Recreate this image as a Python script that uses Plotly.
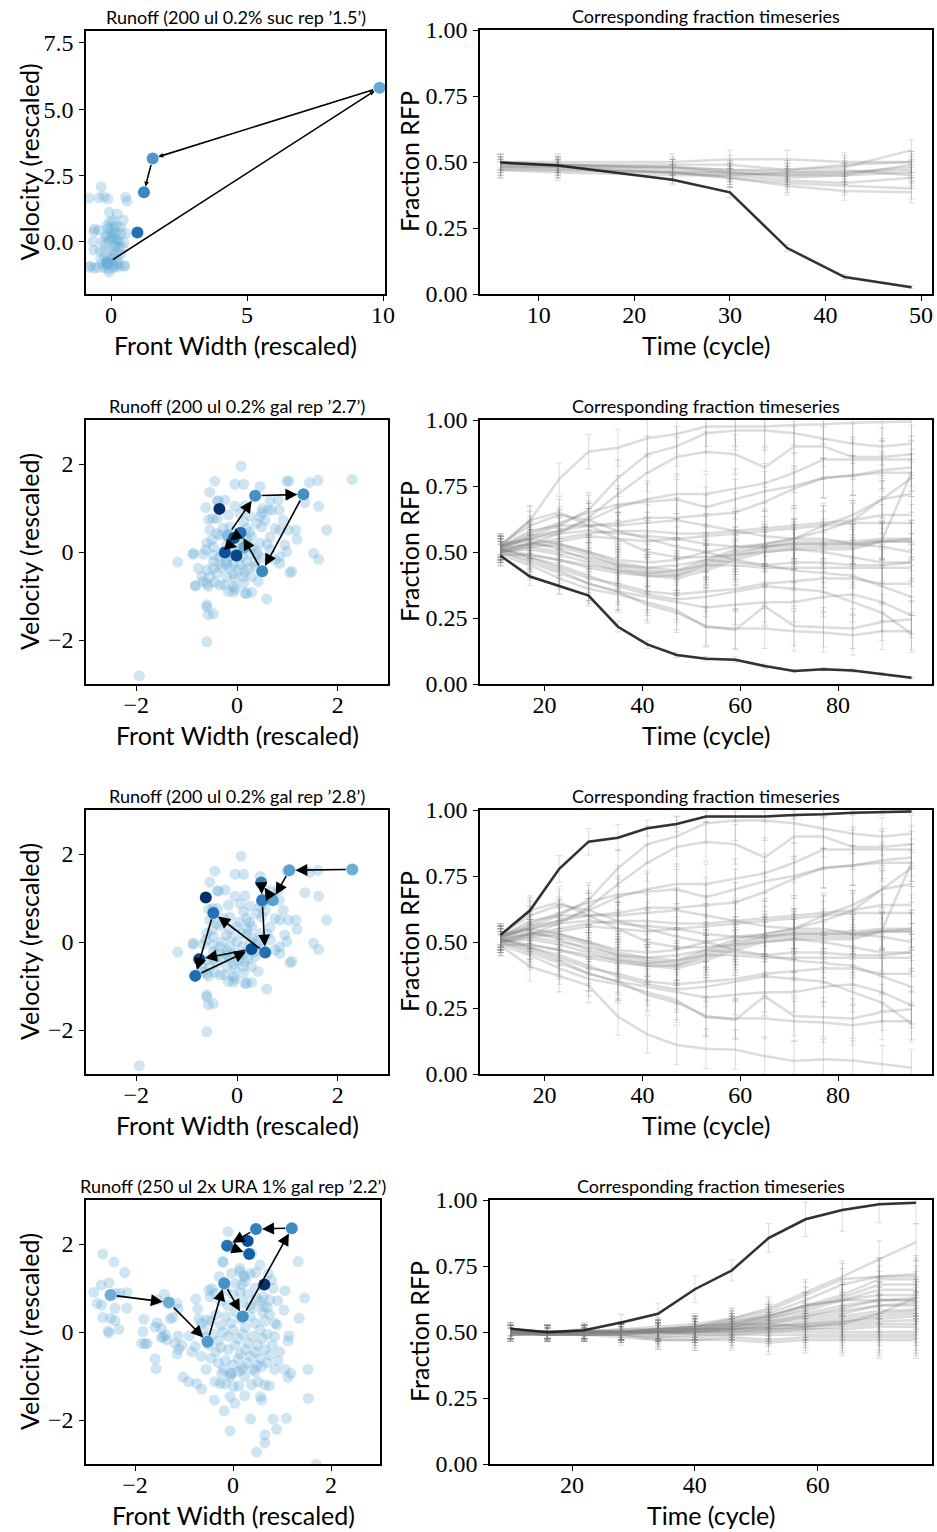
import plotly.graph_objects as go

W, H = 937, 1532

# ------------------------------------------------------------------ data
# Row 1 : sucrose runoff
suc_cloud = [(-0.36,2.08),(-0.81,1.65),(-0.44,1.66),(-0.26,1.70),(-0.11,1.62),(0.54,1.68),(0.58,1.53),
 (-0.07,1.11),(0.23,1.05),(0.45,0.82),(0.08,0.80),(-0.14,0.61),(-0.44,0.44),(-0.63,0.39),(0.11,0.54),
 (-0.01,0.42),(0.17,0.35),(0.36,0.29),(0.54,0.32),(-0.13,0.27),(0.05,0.16),(0.23,0.10),(0.48,-0.03),
 (-0.07,0.04),(-0.20,-0.09),(0.11,-0.15),(0.29,-0.21),(-0.01,-0.34),(0.17,-0.40),(-0.65,0.01),(-0.63,-0.31),
 (-0.75,-0.91),(-0.50,-0.97),(-0.32,-0.85),(0.05,-0.78),(0.23,-0.66),(0.48,-0.91),(-0.13,-0.59),(-0.26,-0.97),
 (0.36,-0.47),(0.11,-0.97),(-0.38,-0.66),(-0.80,-0.96),(-0.63,-0.99),(0.51,-0.91),(0.21,-0.88),(-0.10,-1.02),
 (-0.07,-1.14),(-0.61,0.48),(0.00,0.20),(0.10,0.30),(-0.10,0.50),(0.20,-0.10),(0.30,0.00),(-0.20,0.20),
 (0.10,-0.50),(-0.10,-0.80),(0.25,-0.80),(0.00,-0.60),(0.35,0.55),(-0.15,-0.30),(0.05,-0.95),(0.15,0.05),
 (-0.05,0.75),(0.20,0.60),(-0.30,0.00),(0.40,-0.20),(-0.25,-0.50),(0.30,-0.95),(-0.40,-0.35)]
suc_hl_x = [-0.20, -0.14, 9.87, 1.53, 1.21, 0.97]
suc_hl_y = [-0.30, -0.81, 5.81, 3.14, 1.87, 0.35]
suc_hl_c = ['#a9cfe5', '#6baed6', '#63a8d3', '#4a98c9', '#3787c0', '#2171b5']
suc_arrows = [(-0.20,-0.30,-0.14,-0.81),(-0.14,-0.81,9.87,5.81),(9.87,5.81,1.53,3.14),(1.53,3.14,1.21,1.87)]

suc_t = [6, 12, 24, 30, 36, 42, 49]
suc_lines = [
 [0.50,0.50,0.50,0.51,0.51,0.50,0.50],
 [0.49,0.49,0.49,0.49,0.47,0.48,0.545],
 [0.48,0.48,0.48,0.47,0.46,0.46,0.47],
 [0.47,0.47,0.46,0.46,0.45,0.45,0.46],
 [0.49,0.49,0.47,0.46,0.45,0.46,0.48],
 [0.48,0.48,0.46,0.45,0.43,0.42,0.44],
 [0.50,0.49,0.48,0.46,0.44,0.45,0.49],
 [0.49,0.48,0.46,0.44,0.41,0.39,0.385],
 [0.48,0.47,0.46,0.44,0.42,0.41,0.40],
 [0.47,0.46,0.45,0.45,0.46,0.47,0.45],
 [0.50,0.49,0.48,0.47,0.47,0.49,0.50],
]
suc_err = [0.03, 0.03, 0.03, 0.035, 0.035, 0.035, 0.04]
suc_black = [0.498, 0.487, 0.433, 0.385, 0.174, 0.064, 0.026]
suc_black_err = [0.02, 0.02, 0.02, 0.02, 0.013, 0.01, 0.005]

# Rows 2 & 3 : galactose runoff (shared cloud and timeseries)
gal_cloud = [(0.08,1.95),(-0.44,1.61),(-0.04,1.54),(0.13,1.54),(0.46,1.49),(-0.54,1.36),(0.99,1.61),(1.03,1.61),
 (1.44,1.58),(1.61,1.63),(2.29,1.65),(-0.39,1.16),(-0.24,1.18),(-0.04,1.04),(0.16,1.05),(0.66,1.16),(0.82,1.18),
 (1.35,1.12),(1.62,1.04),(0.51,0.99),(0.49,0.90),(0.62,0.95),(-0.62,1.01),(-0.56,0.74),(-0.48,0.76),(-0.39,0.76),
 (-0.17,0.84),(0.06,0.87),(0.26,0.82),(0.46,0.80),(0.69,0.95),(0.84,0.95),(0.13,0.69),(0.39,0.65),(0.56,0.72),
 (0.92,0.72),(-0.54,0.50),(-0.40,0.42),(-0.27,0.54),(-0.14,0.57),(0.19,0.54),(0.49,0.57),(0.76,0.54),(0.85,0.50),
 (1.02,0.50),(1.17,0.50),(1.78,0.50),(-0.50,0.27),(-0.34,0.38),(-0.01,0.35),(0.29,0.35),(0.66,0.34),(1.19,0.29),
 (-0.60,0.20),(-0.47,0.12),(-0.21,0.16),(0.19,0.16),(0.46,0.20),(0.60,0.18),(0.95,0.16),(0.99,0.01),(-0.62,0.05),
 (-0.87,-0.05),(-0.67,-0.05),(-0.47,-0.07),(-0.34,-0.11),(-0.14,-0.11),(0.26,-0.03),(0.39,0.01),(0.66,0.05),
 (0.85,-0.11),(1.52,-0.03),(1.62,-0.17),(-0.47,-0.22),(-0.34,-0.26),(-0.21,-0.29),(-0.07,-0.26),(0.06,-0.29),
 (0.19,-0.22),(0.36,-0.22),(0.52,-0.14),(0.76,-0.18),(0.85,-0.26),(-0.77,-0.37),(-0.60,-0.41),(-0.47,-0.37),
 (-0.30,-0.35),(-0.14,-0.37),(0.03,-0.41),(0.23,-0.37),(0.36,-0.33),(1.05,-0.47),(1.09,-0.44),(-0.70,-0.56),
 (-0.54,-0.56),(-0.40,-0.48),(-0.21,-0.56),(-0.07,-0.50),(0.13,-0.56),(0.29,-0.56),(-0.83,-0.77),(-0.60,-0.72),
 (-0.44,-0.69),(-0.24,-0.75),(-0.07,-0.78),(0.13,-0.71),(0.42,-0.67),(-0.67,-0.67),(-0.57,-0.78),(-0.17,-0.90),
 (-0.04,-0.84),(0.16,-0.94),(0.29,-0.92),(0.59,-1.07),(-0.60,-1.20),(-0.57,-1.43),(-0.47,-1.40),(-0.60,-1.25),
 (-1.94,-2.81),(-0.60,-2.04),(-1.18,-0.23),(-0.87,-0.03),(-0.82,-0.76),(-0.37,1.16),(-0.34,-0.75),(-0.07,-0.91),
 (0.19,-0.94),(0.00,0.00),(0.10,-0.10),(-0.10,0.10),(0.20,0.30),(-0.20,-0.20),(0.30,0.10),(0.05,0.45),
 (-0.30,0.00),(0.15,-0.45),(-0.05,-0.60),(0.10,0.20),(-0.15,0.30),(0.40,-0.05),(0.25,0.45)]

gal27_hl_x = [-0.18, 0.36, 1.32, 0.50, 0.07, 0.14, -0.06, -0.24, -0.01, -0.35]
gal27_hl_y = [0.38, 1.28, 1.31, -0.44, 0.44, 0.10, 0.32, -0.01, -0.08, 0.98]
gal27_hl_c = ['#85bcdb', '#4292c6', '#4292c6', '#3a8ac2', '#2171b5', '#6baed6', '#08519c', '#08519c', '#08468a', '#08306b']
gal27_arrows = [(-0.18,0.38,0.36,1.28),(0.36,1.28,1.32,1.31),(1.32,1.31,0.50,-0.44),(0.50,-0.44,0.07,0.44),
 (0.07,0.44,-0.24,0.18),(-0.24,0.18,0.12,0.08)]

gal28_hl_x = [2.29, 1.04, 0.71, 0.48, 0.50, 0.56, -0.47, -0.83, 0.29, -0.75, -0.62]
gal28_hl_y = [1.65, 1.63, 0.95, 1.35, 0.95, -0.24, 0.66, -0.77, -0.16, -0.39, 1.01]
gal28_hl_c = ['#6baed6', '#5aa2cf', '#5aa2cf', '#3182bd', '#2b7bba', '#2171b5', '#2171b5', '#1f6db1', '#08519c', '#08468a', '#08306b']
gal28_arrows = [(2.29,1.65,1.04,1.63),(1.04,1.63,0.71,0.95),(0.71,0.95,0.48,1.35),(0.48,1.35,0.50,0.95),
 (0.50,0.95,0.56,-0.24),(0.56,-0.24,-0.47,0.66),(-0.47,0.66,-0.83,-0.77),(-0.83,-0.77,0.29,-0.16),
 (0.29,-0.16,-0.75,-0.39)]

gal_t = [11, 17, 23, 29, 35, 41, 47, 53, 59, 65, 71, 77, 83, 89, 95]
gal_lines = [
 [0.527,0.619,0.777,0.880,0.895,0.931,0.947,0.975,0.975,0.975,0.981,0.984,0.990,0.991,0.994],
 [0.486,0.407,0.371,0.335,0.217,0.150,0.110,0.096,0.092,0.068,0.049,0.056,0.051,0.038,0.024],
 [0.52,0.56,0.60,0.66,0.78,0.87,0.90,0.95,0.96,0.96,0.95,0.93,0.91,0.90,0.91],
 [0.51,0.53,0.57,0.63,0.72,0.80,0.86,0.88,0.87,0.82,0.90,0.90,0.86,0.86,0.87],
 [0.53,0.55,0.58,0.62,0.67,0.70,0.72,0.72,0.74,0.76,0.80,0.85,0.85,0.85,0.85],
 [0.52,0.57,0.61,0.65,0.68,0.69,0.70,0.67,0.70,0.73,0.75,0.78,0.79,0.81,0.82],
 [0.52,0.58,0.60,0.60,0.61,0.63,0.63,0.64,0.65,0.69,0.74,0.78,0.79,0.80,0.80],
 [0.51,0.56,0.58,0.60,0.60,0.61,0.62,0.60,0.58,0.56,0.55,0.60,0.64,0.70,0.72],
 [0.50,0.53,0.55,0.57,0.58,0.58,0.57,0.57,0.58,0.59,0.60,0.61,0.62,0.64,0.64],
 [0.52,0.55,0.57,0.58,0.57,0.56,0.55,0.56,0.57,0.58,0.59,0.60,0.61,0.61,0.61],
 [0.53,0.60,0.64,0.62,0.58,0.55,0.52,0.50,0.47,0.45,0.43,0.42,0.41,0.37,0.33],
 [0.50,0.52,0.53,0.50,0.46,0.44,0.43,0.47,0.51,0.53,0.55,0.58,0.62,0.70,0.78],
 [0.51,0.53,0.52,0.49,0.45,0.43,0.42,0.46,0.50,0.52,0.54,0.54,0.54,0.55,0.55],
 [0.52,0.54,0.51,0.47,0.44,0.42,0.41,0.45,0.49,0.52,0.53,0.53,0.53,0.54,0.54],
 [0.50,0.51,0.49,0.46,0.43,0.41,0.41,0.44,0.48,0.51,0.52,0.52,0.52,0.54,0.54],
 [0.51,0.49,0.47,0.44,0.42,0.41,0.40,0.43,0.47,0.50,0.51,0.51,0.51,0.54,0.55],
 [0.52,0.55,0.53,0.50,0.47,0.46,0.47,0.50,0.52,0.53,0.55,0.55,0.53,0.52,0.50],
 [0.50,0.52,0.50,0.48,0.45,0.44,0.45,0.47,0.46,0.45,0.46,0.46,0.45,0.45,0.46],
 [0.49,0.49,0.47,0.45,0.43,0.42,0.43,0.45,0.45,0.44,0.44,0.44,0.44,0.44,0.44],
 [0.51,0.48,0.44,0.40,0.38,0.35,0.34,0.35,0.36,0.38,0.39,0.40,0.40,0.38,0.38],
 [0.50,0.47,0.43,0.38,0.35,0.33,0.31,0.29,0.30,0.31,0.31,0.33,0.34,0.31,0.26],
 [0.49,0.45,0.40,0.36,0.34,0.31,0.28,0.215,0.21,0.21,0.20,0.195,0.185,0.20,0.20],
 [0.50,0.46,0.42,0.38,0.35,0.30,0.27,0.22,0.205,0.295,0.22,0.215,0.21,0.235,0.245],
 [0.51,0.48,0.45,0.41,0.37,0.34,0.32,0.33,0.35,0.37,0.36,0.35,0.31,0.27,0.19],
 [0.51,0.53,0.54,0.56,0.55,0.54,0.55,0.53,0.52,0.52,0.53,0.53,0.53,0.545,0.80],
 [0.52,0.62,0.65,0.60,0.55,0.50,0.48,0.48,0.49,0.50,0.51,0.50,0.48,0.46,0.46],
]
gal_err = [0.04,0.055,0.06,0.065,0.07,0.07,0.075,0.075,0.075,0.075,0.075,0.075,0.075,0.07,0.07]
gal_top_err = [0.04,0.05,0.05,0.05,0.05,0.03,0.03,0.02,0.02,0.02,0.015,0.015,0.01,0.01,0.005]
gal_bottom_err = [0.04,0.035,0.03,0.03,0.02,0.015,0.01,0.008,0.01,0.008,0.006,0.006,0.006,0.005,0.004]
gal27_black_index = 1
gal28_black_index = 0

# Row 4 : URA runoff
ura_cloud = [(-2.66,1.77),(-2.43,1.59),(-2.21,1.35),(-2.69,1.07),(-2.53,1.12),(-2.40,0.88),(-2.30,0.88),
 (-2.16,0.90),(-2.84,0.90),(-2.77,0.65),(-2.68,0.61),(-2.41,0.54),(-2.17,0.54),(-2.66,0.33),(-2.50,0.31),
 (-2.41,0.26),(-2.33,0.06),(-2.55,0.02),(-2.53,-0.02),(-1.40,0.86),(-1.55,0.73),(-1.14,0.65),(-1.12,0.52),
 (-1.23,0.33),(-1.28,0.30),(-1.82,0.29),(-1.55,0.21),(-1.59,0.11),(-1.46,0.08),(-1.37,-0.07),(-1.43,-0.11),
 (-1.46,-0.13),(-1.84,0.01),(-1.86,-0.26),(-1.79,-0.27),(-1.75,-0.26),(-1.35,-0.18),(-1.12,-0.09),(-1.18,-0.26),
 (-1.04,-0.30),(-1.11,-0.39),(-1.14,-0.50),(-1.59,-0.61),(-1.57,-0.83),(-1.02,-1.02),(-0.91,-1.13),(-0.84,-0.45),
 (-0.77,-0.33),(-0.89,-0.09),(-0.76,0.75),(-0.72,0.52),(-0.70,0.29),(-0.64,0.20),(-0.54,0.27),(-0.60,0.05),
 (-0.56,-0.12),(-0.49,0.95),(-0.43,0.99),(-0.47,0.80),(-0.37,0.88),(-0.20,1.58),(-0.28,1.26),(-0.03,1.33),
 (0.14,1.37),(0.24,1.26),(0.18,1.07),(0.35,1.33),(0.46,1.35),(0.72,1.32),(0.79,1.18),(0.82,0.99),(0.62,0.80),
 (0.48,0.77),(0.75,0.73),(0.91,0.71),(1.06,0.94),(1.33,1.60),(1.46,0.77),(1.35,0.31),(1.04,0.50),(0.85,0.20),
 (0.90,0.16),(0.62,0.58),(0.70,0.56),(-0.74,-1.17),(-0.64,-1.30),(-0.37,-1.13),(-0.26,-1.17),(-0.16,-1.18),
 (-0.03,-0.94),(0.01,-1.24),(0.12,-1.23),(0.24,-1.02),(0.38,-1.20),(0.51,-1.13),(0.65,-1.20),(0.74,-1.22),
 (-0.23,-0.94),(-0.06,-1.02),(0.18,-0.86),(0.45,-0.90),(0.58,-0.79),(0.75,-0.52),(0.92,-0.66),(1.06,-0.85),
 (1.12,-1.03),(1.18,-0.94),(1.53,-0.85),(1.14,-0.09),(1.12,-0.20),(-0.38,-1.55),(-0.06,-1.47),(0.04,-1.62),
 (0.24,-1.45),(0.56,-1.47),(0.58,-1.55),(-0.18,-1.79),(0.36,-1.98),(0.82,-1.98),(1.09,-1.96),(0.89,-2.21),
 (0.65,-2.34),(0.65,-2.52),(-0.06,-2.25),(0.48,-2.73),(1.54,-1.51),(1.70,-3.01),
 (-0.45,0.25),(-0.35,0.40),(-0.25,0.15),(-0.15,0.35),(-0.05,0.20),(0.05,0.45),(0.15,0.30),(0.25,0.10),
 (0.35,0.35),(0.45,0.20),(0.55,0.05),(0.65,0.25),(-0.40,-0.05),(-0.30,-0.20),(-0.20,0.00),(-0.10,-0.10),
 (0.00,0.05),(0.10,-0.15),(0.20,-0.05),(0.30,-0.25),(0.40,-0.10),(0.50,-0.30),(0.60,-0.15),(0.70,-0.05),
 (0.80,-0.30),(-0.50,-0.30),(-0.35,-0.45),(-0.25,-0.35),(-0.10,-0.40),(0.05,-0.30),(0.15,-0.50),(0.25,-0.40),
 (0.35,-0.55),(0.45,-0.45),(0.55,-0.60),(0.65,-0.40),(-0.45,-0.60),(-0.30,-0.70),(-0.15,-0.65),(0.00,-0.75),
 (0.10,-0.60),(0.20,-0.80),(0.30,-0.70),(0.40,-0.85),(0.50,-0.75),(-0.20,-0.85),(-0.05,-0.95),(0.10,-0.90),
 (0.60,0.45),(0.75,0.40),(0.35,0.60),(0.20,0.65),(-0.10,0.60),(0.00,0.85),(0.15,0.90),(0.30,0.85),(0.45,1.00),
 (0.55,0.70),(0.40,0.55),(-0.25,0.70),(0.25,1.15),(0.05,1.10),(-0.15,0.95),(0.60,1.05),(0.85,-0.10),
 (0.95,-0.45),(-0.55,-0.85),(-0.65,-0.55),(0.70,-0.70),(0.85,-0.85),(-0.10,2.28),(0.38,1.79),(-0.21,1.61),
 (0.14,1.45),(0.21,1.28),(0.55,1.52)]

ura_hl_x = [-2.50, -1.31, -0.52, -0.18, 0.20, 1.20, 0.47, -0.12, 0.33, 0.30, 0.64]
ura_hl_y = [0.84, 0.67, -0.22, 1.11, 0.35, 2.36, 2.34, 1.96, 1.77, 2.07, 1.08]
ura_hl_c = ['#6baed6', '#6baed6', '#4f9bcb', '#4292c6', '#4292c6', '#3d8dc4', '#3182bd', '#2171b5', '#1361a9', '#08519c', '#08306b']
ura_arrows = [(-2.50,0.84,-1.31,0.67),(-1.31,0.67,-0.52,-0.22),(-0.52,-0.22,-0.18,1.11),(-0.18,1.11,0.20,0.35),
 (0.20,0.35,1.20,2.36),(1.20,2.36,0.47,2.34),(0.47,2.34,-0.12,1.96),(-0.12,1.96,0.33,1.77),(0.30,2.07,0.33,1.77)]

ura_t = [10, 16, 22, 28, 34, 40, 46, 52, 58, 64, 70, 76]
ura_lines = [
 [0.50,0.49,0.50,0.50,0.51,0.52,0.55,0.59,0.65,0.71,0.775,0.84],
 [0.49,0.50,0.50,0.51,0.52,0.53,0.55,0.58,0.64,0.70,0.71,0.72],
 [0.50,0.50,0.49,0.50,0.51,0.52,0.54,0.57,0.62,0.68,0.71,0.71],
 [0.51,0.50,0.50,0.50,0.51,0.51,0.53,0.56,0.60,0.64,0.70,0.70],
 [0.50,0.49,0.50,0.50,0.50,0.51,0.53,0.55,0.59,0.63,0.68,0.68],
 [0.49,0.50,0.50,0.49,0.50,0.51,0.52,0.55,0.58,0.62,0.66,0.66],
 [0.50,0.50,0.51,0.50,0.51,0.52,0.53,0.56,0.60,0.62,0.64,0.64],
 [0.51,0.50,0.50,0.50,0.50,0.50,0.52,0.54,0.57,0.60,0.62,0.63],
 [0.50,0.49,0.49,0.50,0.50,0.51,0.52,0.53,0.56,0.59,0.62,0.62],
 [0.50,0.50,0.50,0.50,0.50,0.50,0.51,0.53,0.55,0.57,0.60,0.61],
 [0.49,0.50,0.49,0.50,0.50,0.51,0.52,0.54,0.56,0.58,0.60,0.60],
 [0.50,0.50,0.50,0.51,0.51,0.51,0.51,0.52,0.54,0.56,0.58,0.585],
 [0.50,0.49,0.50,0.50,0.49,0.50,0.51,0.52,0.53,0.55,0.57,0.58],
 [0.51,0.50,0.50,0.50,0.50,0.50,0.50,0.51,0.52,0.54,0.56,0.57],
 [0.50,0.50,0.49,0.49,0.50,0.50,0.51,0.52,0.53,0.54,0.55,0.56],
 [0.49,0.49,0.50,0.50,0.50,0.51,0.51,0.51,0.52,0.53,0.54,0.545],
 [0.50,0.50,0.50,0.50,0.49,0.50,0.50,0.51,0.51,0.52,0.53,0.53],
 [0.50,0.49,0.49,0.49,0.48,0.49,0.50,0.50,0.51,0.51,0.52,0.52],
 [0.50,0.50,0.50,0.50,0.50,0.49,0.49,0.50,0.50,0.50,0.50,0.50],
 [0.49,0.49,0.49,0.49,0.48,0.48,0.49,0.49,0.49,0.49,0.49,0.49],
 [0.50,0.49,0.49,0.49,0.47,0.47,0.48,0.47,0.48,0.48,0.48,0.48],
 [0.49,0.49,0.49,0.48,0.47,0.47,0.47,0.46,0.47,0.47,0.47,0.47],
 [0.50,0.50,0.50,0.50,0.51,0.52,0.53,0.53,0.52,0.53,0.57,0.63],
 [0.50,0.50,0.50,0.50,0.51,0.52,0.54,0.56,0.60,0.62,0.62,0.62],
]
ura_err = [0.025,0.025,0.025,0.03,0.035,0.04,0.04,0.045,0.05,0.06,0.07,0.07]
ura_black = [0.512,0.499,0.507,0.536,0.569,0.662,0.733,0.856,0.927,0.962,0.984,0.990]
ura_black_err = [0.025,0.02,0.025,0.03,0.04,0.05,0.04,0.055,0.065,0.08,0.07,0.08]

# ------------------------------------------------------------------ styling
TICK_FONT = dict(family="'Liberation Serif', 'DejaVu Serif', 'Times New Roman', serif", size=24, color='black')
LABEL_FONT = dict(family='Lato, sans-serif', size=25, color='black')
TITLE_FONT = dict(family='Lato, sans-serif', size=18, color='black')
CLOUD_COLOR = 'rgba(107,174,214,0.32)'
GRAY_LINE = 'rgba(128,128,128,0.28)'
GRAY_ERR = 'rgba(128,128,128,0.26)'
BLACK_LINE = 'rgba(20,20,20,0.85)'

# panel boxes in pixels: (left, right, top, bottom)
boxes = {
    1: (86, 385, 31, 294), 2: (480, 932, 30, 294),
    3: (86, 388, 420, 684), 4: (480, 932, 420, 684),
    5: (86, 388, 810, 1074), 6: (480, 932, 810, 1074),
    7: (86, 380, 1200, 1464), 8: (490, 932, 1200, 1464),
}

fig = go.Figure()
layout = dict(width=W, height=H,
              margin=dict(l=0, r=0, t=0, b=0, pad=0, autoexpand=False),
              autosize=False,
              paper_bgcolor='white', plot_bgcolor='white', showlegend=False,
              font=dict(family="'Liberation Serif', serif", color='black'))
annotations = []


def axis_common():
    return dict(showline=True, mirror=True, linecolor='black', linewidth=1.5,
                ticks='outside', ticklen=5, tickwidth=1.3, tickcolor='black',
                showgrid=False, zeroline=False, tickfont=TICK_FONT, fixedrange=True,
                automargin=False)


def setup_axes(i, xr, yr, xt, xtt, yt, ytt):
    l, r, t, b = boxes[i]
    sx = '' if i == 1 else str(i)
    xa = axis_common()
    xa.update(domain=[l / W, r / W], range=xr, tickvals=xt, ticktext=xtt, anchor='y' + sx,
              ticklabelstandoff=-7)
    ya = axis_common()
    ya.update(domain=[1 - b / H, 1 - t / H], range=yr, tickvals=yt, ticktext=ytt,
              anchor='x' + sx, ticklabelstandoff=1)
    layout['xaxis' + sx] = xa
    layout['yaxis' + sx] = ya
    return 'x' + sx, 'y' + sx


def paper_text(text, px, py, font, angle=0):
    annotations.append(dict(text=text, x=px / W, y=1 - py / H, xref='paper', yref='paper',
                            showarrow=False, xanchor='center', yanchor='middle',
                            textangle=angle, font=font))


def scatter_panel(i, cloud, hx, hy, hc, arrows, xr, yr, xt, xtt, yt, ytt, title, head_size):
    xa, ya = setup_axes(i, xr, yr, xt, xtt, yt, ytt)
    fig.add_trace(go.Scatter(x=[p[0] for p in cloud], y=[p[1] for p in cloud], mode='markers',
                             marker=dict(size=11, color=CLOUD_COLOR, line=dict(width=0)),
                             xaxis=xa, yaxis=ya, hoverinfo='skip'))
    fig.add_trace(go.Scatter(x=hx, y=hy, mode='markers',
                             marker=dict(size=12, color=hc, line=dict(width=0)),
                             xaxis=xa, yaxis=ya, hoverinfo='skip'))
    for (x0, y0, x1, y1) in arrows:
        annotations.append(dict(x=x1, y=y1, ax=x0, ay=y0, xref=xa, yref=ya, axref=xa, ayref=ya,
                                showarrow=True, arrowhead=2, arrowsize=head_size, arrowwidth=1.6,
                                arrowcolor='black', standoff=6, startstandoff=5, text=''))
    l, r, t, b = boxes[i]
    paper_text(title, (l + r) / 2, t - 14, TITLE_FONT)
    paper_text('Front Width (rescaled)', (l + r) / 2, b + 51, LABEL_FONT)
    paper_text('Velocity (rescaled)', 29, (t + b) / 2, LABEL_FONT, -90)


def series_panel(i, t_vals, lines, err, black, black_err, xr, xt, label_x):
    xa, ya = setup_axes(i, xr, [0, 1], xt, [str(v) for v in xt],
                        [0, 0.25, 0.5, 0.75, 1.0], ['0.00', '0.25', '0.50', '0.75', '1.00'])
    for ln in lines:
        fig.add_trace(go.Scatter(x=t_vals, y=ln, mode='lines',
                                 line=dict(color=GRAY_LINE, width=2.5),
                                 error_y=dict(type='data', array=err, color=GRAY_ERR,
                                              thickness=1.1, width=3),
                                 xaxis=xa, yaxis=ya, hoverinfo='skip'))
    fig.add_trace(go.Scatter(x=t_vals, y=black, mode='lines',
                             line=dict(color=GRAY_LINE, width=2.5),
                             error_y=dict(type='data', array=black_err, color=GRAY_ERR,
                                          thickness=1.1, width=3),
                             xaxis=xa, yaxis=ya, hoverinfo='skip'))
    fig.add_trace(go.Scatter(x=t_vals, y=black, mode='lines',
                             line=dict(color=BLACK_LINE, width=2.5),
                             xaxis=xa, yaxis=ya, hoverinfo='skip'))
    l, r, t, b = boxes[i]
    paper_text('Corresponding fraction timeseries', (l + r) / 2, t - 14, TITLE_FONT)
    paper_text('Time (cycle)', (l + r) / 2, b + 51, LABEL_FONT)
    paper_text('Fraction RFP', label_x, (t + b) / 2, LABEL_FONT, -90)


sym = ['\u22122', '0', '2']

# Row 1
scatter_panel(1, suc_cloud, suc_hl_x, suc_hl_y, suc_hl_c, suc_arrows,
              [-0.92, 10.07], [-1.97, 7.95], [0, 5, 10], ['0', '5', '10'],
              [0, 2.5, 5, 7.5], ['0.0', '2.5', '5.0', '7.5'],
              'Runoff (200 ul 0.2% suc rep \u20191.5\u2019)', 0.6)
series_panel(2, suc_t, suc_lines, suc_err, suc_black, suc_black_err, [3.85, 51.15],
             [10, 20, 30, 40, 50], 409)

# Row 2
scatter_panel(3, gal_cloud, gal27_hl_x, gal27_hl_y, gal27_hl_c, gal27_arrows,
              [-3, 3], [-3, 3], [-2, 0, 2], sym, [-2, 0, 2], sym,
              'Runoff (200 ul 0.2% gal rep \u20192.7\u2019)', 1.5)
others27 = [ln for k, ln in enumerate(gal_lines) if k != gal27_black_index]
series_panel(4, gal_t, others27, gal_err, gal_lines[gal27_black_index], gal_bottom_err,
             [6.8, 99.2], [20, 40, 60, 80], 409)

# Row 3
scatter_panel(5, gal_cloud, gal28_hl_x, gal28_hl_y, gal28_hl_c, gal28_arrows,
              [-3, 3], [-3, 3], [-2, 0, 2], sym, [-2, 0, 2], sym,
              'Runoff (200 ul 0.2% gal rep \u20192.8\u2019)', 1.5)
others28 = [ln for k, ln in enumerate(gal_lines) if k != gal28_black_index]
series_panel(6, gal_t, others28, gal_err, gal_lines[gal28_black_index], gal_top_err,
             [6.8, 99.2], [20, 40, 60, 80], 409)

# Row 4
scatter_panel(7, ura_cloud, ura_hl_x, ura_hl_y, ura_hl_c, ura_arrows,
              [-3, 3], [-3, 3], [-2, 0, 2], sym, [-2, 0, 2], sym,
              'Runoff (250 ul 2x URA 1% gal rep \u20192.2\u2019)', 1.5)
series_panel(8, ura_t, ura_lines, ura_err, ura_black, ura_black_err,
             [6.65, 78.6], [20, 40, 60], 419)

layout['annotations'] = annotations
fig.update_layout(**layout)
fig.write_html('out.html', post_script="document.body.style.margin='0';document.body.style.overflow='hidden';")
